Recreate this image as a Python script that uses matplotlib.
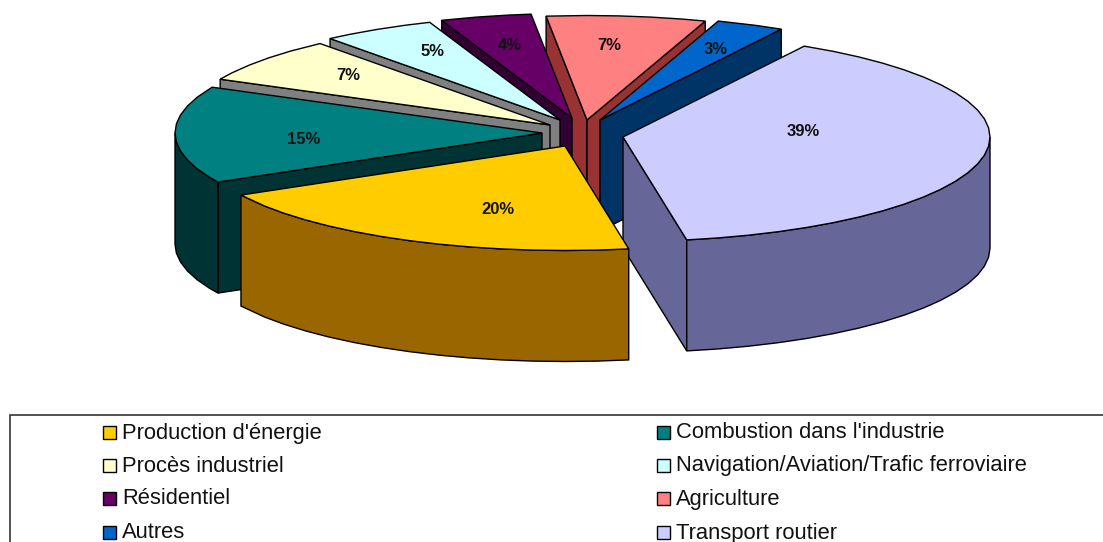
import numpy as np
import matplotlib
matplotlib.use('Agg')
import matplotlib.pyplot as plt
from matplotlib.patches import Polygon, Rectangle

plt.rcParams['font.family'] = ['Liberation Sans', 'DejaVu Sans']

# données (ordre de dessin du camembert, sens horaire)
categories = ["Production d'énergie", "Combustion dans l'industrie", "Procès industriel",
              "Navigation/Aviation/Trafic ferroviaire", "Résidentiel", "Agriculture",
              "Autres", "Transport routier"]
values = [20, 15, 7, 5, 4, 7, 3, 39]

# couleurs
top_colors = ['#FFCC00', '#008080', '#FFFFCC', '#CCFFFF', '#660066', '#FF8080', '#0066CC', '#CCCCFF']
wall_colors = ['#996600', '#003333', '#808080', '#808080', '#330033', '#993333', '#003366', '#666699']

# géométrie du camembert, en pixels
start_angle = 80
rx, ry = 367, 104.5
depth = 111
center = (580, 125)
explode_dx = [-15, -38, -30, -20, -8, 7, 20, 43]
explode_dy = [21, 8, 0, -5, -7, -5, -5, 12]
arc_step = 5  # le contour d'origine est fait de petits segments

# étiquettes
label_x = [498, 304, 348, 433, 510, 609, 716, 803]
label_y = [209, 139, 75, 51, 46, 46, 49, 131]

fig = plt.figure(figsize=(11.03, 5.42), dpi=100)
ax = fig.add_axes([0, 0, 1, 1])
ax.set_xlim(0, 1103)
ax.set_ylim(542, 0)
ax.axis('off')


def arc(tip, a, b):
    inner = np.arange(np.ceil(a / arc_step + 0.3) * arc_step, b - 2, arc_step)
    t = np.radians(np.concatenate([[a], inner, [b]]))
    return np.column_stack([tip[0] + rx * np.cos(t), tip[1] + ry * np.sin(t)])


def wall(points, color, z):
    down = points[::-1] + [0, depth]
    ax.add_patch(Polygon(np.vstack([points, down]), closed=True, facecolor=color,
                         edgecolor='black', linewidth=1, zorder=z))


shares = np.array(values) / sum(values) * 360
starts = start_angle + np.concatenate([[0], np.cumsum(shares)[:-1]])
mids = starts + shares / 2

# les parts du fond d'abord
order = np.argsort(np.sin(np.radians(mids)))
for z, i in enumerate(order):
    a, b = starts[i], starts[i] + shares[i]
    tip = (center[0] + explode_dx[i], center[1] + explode_dy[i])
    base = 10 * z
    edge_a = arc(tip, a, a)[:1]
    edge_b = arc(tip, b, b)[:1]
    if np.cos(np.radians(a)) < 0:
        wall(np.vstack([[tip], edge_a]), wall_colors[i], base)
    if np.cos(np.radians(b)) > 0:
        wall(np.vstack([[tip], edge_b]), wall_colors[i], base)
    # paroi extérieure, seulement la partie vue de face
    for k in range(0, 2):
        lo, hi = max(a, k * 360), min(b, k * 360 + 180)
        if hi > lo:
            wall(arc(tip, lo, hi), wall_colors[i], base + 1)
    ax.add_patch(Polygon(np.vstack([[tip], arc(tip, a, b)]), closed=True,
                         facecolor=top_colors[i], edgecolor='black', linewidth=1,
                         zorder=base + 2))

for x, y, v in zip(label_x, label_y, values):
    ax.text(x, y, f'{v}%', ha='center', va='center', fontsize=12, fontweight='bold',
            color='#111111', zorder=200)

# légende
ax.add_patch(Rectangle((10, 415), 1200, 200, facecolor='white', edgecolor='#333333',
                       linewidth=1.2, zorder=300))
legend_cols = [103, 657]
legend_rows = [432, 465, 498, 532]
for i, name in enumerate(categories):
    x = legend_cols[i % 2]
    y = legend_rows[i // 2]
    ax.add_patch(Rectangle((x, y - 6.5), 13, 13, facecolor=top_colors[i], edgecolor='black',
                           linewidth=1, zorder=301))
    ax.text(x + 19, y + 1, name, ha='left', va='center', fontsize=15.8, color='#111111', zorder=301)

fig.savefig('out.png', dpi=100)
